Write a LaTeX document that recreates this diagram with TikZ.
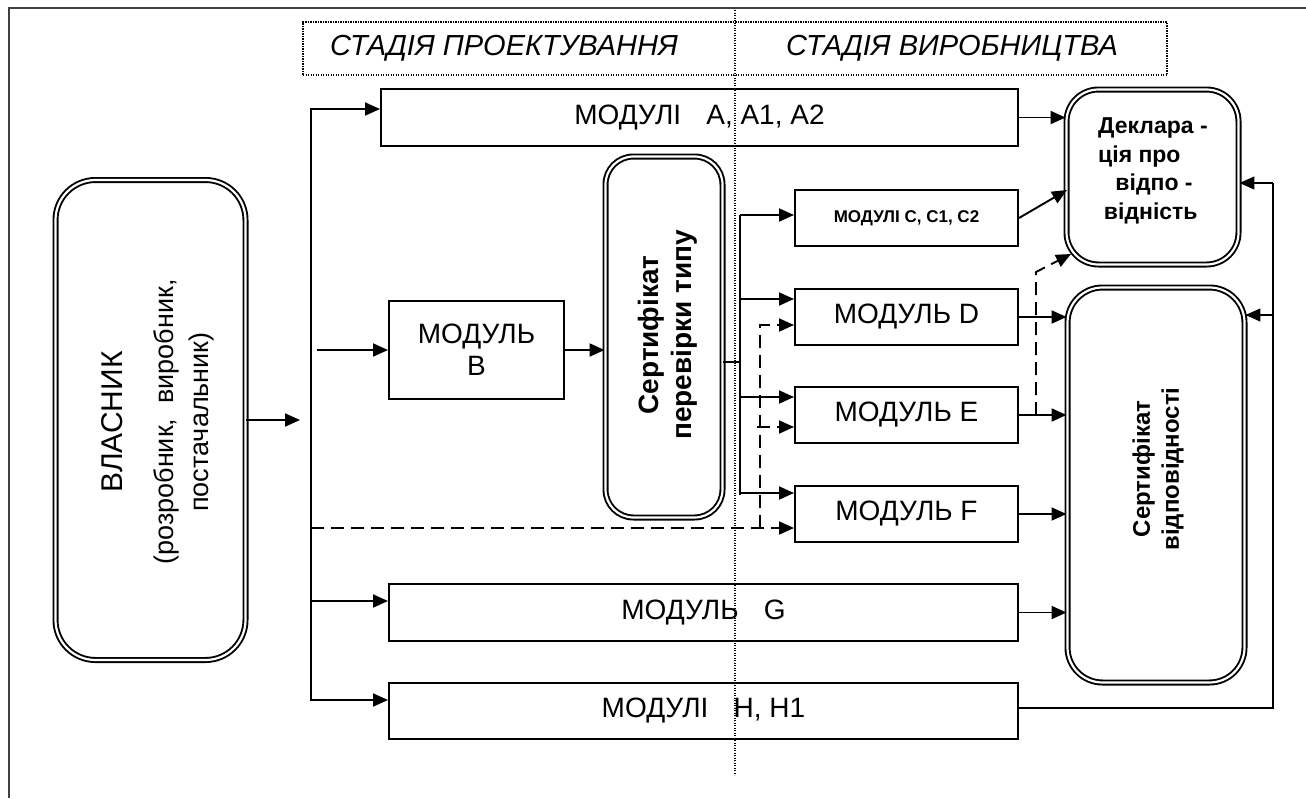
\documentclass[tikz,border=0pt]{standalone}
\usepackage{fontspec}
\setmainfont{Liberation Sans}
\usetikzlibrary{arrows.meta,calc}
\newcommand\modf{\fontsize{28}{32}\selectfont}
\begin{document}
\begin{tikzpicture}[x=1pt,y=-1pt,
  modbox/.style={draw, line width=2pt, inner sep=0pt, align=center, font=\modf},
  dbl/.style={draw, line width=1.9pt, double, double distance=2.2pt, rounded corners=#1, inner sep=0pt},
  tip/.tip={Triangle[length=15pt,width=13pt]},
  con/.style={line width=1.9pt, -tip},
  dcon/.style={line width=1.9pt, tip-tip},
  thincon/.style={line width=1.4pt, -tip},
  dsh/.style={con, dash pattern=on 13pt off 7pt},
  plain/.style={line width=1.9pt},
  thinl/.style={line width=1.4pt},
  dotl/.style={line width=1.1pt, dash pattern=on 1.1pt off 1.4pt},
  frm/.style={line width=2.6pt, black!75},
  lbl/.style={inner sep=0pt, align=center}
]
\useasboundingbox (0,0) rectangle (1306,798);
% frame
\coordinate (f1) at (9,798);
\coordinate (f2) at (9,8);
\coordinate (f3) at (1306,8);
\draw[frm] (f1) -- (f2) -- (f3);
% header
\node[draw, dotl, minimum width=864pt, minimum height=53pt, inner sep=0pt] (hdr) at (735,48.5) {};
\node[lbl, font=\fontsize{29}{32}\selectfont\itshape] (st1) at (504,48) {СТАДІЯ ПРОЕКТУВАННЯ};
\node[lbl, font=\fontsize{29}{32}\selectfont\itshape] (st2) at (952,48) {СТАДІЯ ВИРОБНИЦТВА};
\coordinate (vt) at (735,10);
\coordinate (vb) at (735,775);
\draw[dotl] (vt) -- (vb);
% owner
\node[dbl=40pt, minimum width=190pt, minimum height=480pt] (vl) at (150.5,420) {};
\node[lbl, rotate=90, font=\fontsize{27}{35}\selectfont] (vltxt) at (158,422)
  {{\fontsize{30}{33}\selectfont ВЛАСНИК}\\[16pt](розробник,\ \ виробник,\\постачальник)};
% modules
\node[modbox, minimum width=637pt, minimum height=57pt] (A) at (699.5,117.5) {МОДУЛІ\hspace{0.9em}А, А1, А2};
\node[modbox, minimum width=175pt, minimum height=98pt, align=center] (B) at (476.5,350) {МОДУЛЬ\\В};
\node[dbl=28pt, minimum width=117pt, minimum height=361pt] (CT) at (664,337) {};
\node[lbl, rotate=90, font=\fontsize{28}{33}\selectfont\bfseries] (cttxt) at (668,335) {Сертифікат\\перевірки типу};
\node[modbox, minimum width=223pt, minimum height=56pt, font=\fontsize{17}{20}\selectfont\bfseries] (C) at (906.5,218) {МОДУЛІ С, С1, С2};
\node[modbox, minimum width=223pt, minimum height=56pt] (D) at (906.5,317) {МОДУЛЬ D};
\node[modbox, minimum width=223pt, minimum height=56pt] (E) at (906.5,415) {МОДУЛЬ E};
\node[modbox, minimum width=223pt, minimum height=56pt] (F) at (906.5,514) {МОДУЛЬ F};
\node[modbox, minimum width=629pt, minimum height=57pt] (G) at (703.5,612.5) {МОДУЛЬ\hspace{0.9em}G};
\node[modbox, minimum width=629pt, minimum height=56pt] (H) at (703.5,711) {МОДУЛІ\hspace{0.9em}Н, Н1};
% results
\node[dbl=32pt, minimum width=172pt, minimum height=175pt] (Decl) at (1152.5,177) {};
\node[lbl, anchor=west, align=left, font=\fontsize{23}{28.5}\selectfont\bfseries] (decltxt) at (1098,171)
  {Деклара -\\ція про\\\hspace*{0.75em}відпо -\\\hspace*{0.25em}відність};
\node[dbl=35pt, minimum width=177pt, minimum height=395pt] (CC) at (1156,485) {};
\node[lbl, rotate=90, font=\fontsize{24}{29}\selectfont\bfseries] (cctxt) at (1158,469) {Сертифікат\\відповідності};
% owner to trunk
\coordinate (ain) at (300,420);
\draw[con] (vl.east) -- (ain);
% trunk
\coordinate (tTop) at (311,109);
\coordinate (tBot) at (311,700);
\draw[dcon] (A.west |- tTop) -| (tBot) -- (H.west |- tBot);
\coordinate (tG) at (311,601);
\draw[con] (tG) -- (G.west |- tG);
\coordinate (tB) at (317,350);
\draw[con] (tB) -- (B.west);
\coordinate (tF) at (311,528);
\draw[dsh] (tF) -- (F.west |- tF);
\draw[con] (B.east) -- (CT.west |- B.east);
% second trunk
\coordinate (s2) at (740,362);
\coordinate (s2t) at (740,215);
\coordinate (s2b) at (740,495);
\draw[plain] (CT.east |- s2) -- (s2);
\draw[plain] (s2t) -- (s2b);
\coordinate (sC) at (740,215);
\coordinate (sD) at (740,299);
\coordinate (sE) at (740,397);
\coordinate (sF) at (740,493);
\draw[con] (sC) -- (C.west |- sC);
\draw[con] (sD) -- (D.west |- sD);
\draw[con] (sE) -- (E.west |- sE);
\draw[con] (sF) -- (F.west |- sF);
% dashed branch
\coordinate (dv1) at (760,528);
\coordinate (dv2) at (760,325);
\draw[dsh] (dv1) -- (dv2) -- (D.west |- dv2);
\coordinate (de) at (757,427);
\draw[dsh] (de) -- (E.west |- de);
% to results
\draw[con] (A.east) -- (Decl.west |- A.east);
\coordinate (cd) at (1067,190);
\draw[con] (C.east) -- (cd);
\draw[con] (D.east) -- (CC.west |- D.east);
\draw[con] (E.east) -- (CC.west |- E.east);
\draw[con] (F.east) -- (CC.west |- F.east);
\draw[con] (G.east) -- (CC.west |- G.east);
\coordinate (ed) at (1036,415);
\coordinate (ed2) at (1036,272);
\coordinate (dtip) at (1071,254);
\draw[dsh] (ed) -- (ed2) -- (dtip);
% return line
\coordinate (rt) at (1273,183);
\coordinate (rc) at (1273,315);
\coordinate (rb) at (1273,708);
\draw[thinl] (H.east |- rb) -- (rb) -- (rt);
\draw[thincon] (rt) -- (Decl.east |- rt);
\draw[thincon] (rc) -- (CC.east |- rc);
\end{tikzpicture}
\end{document}
